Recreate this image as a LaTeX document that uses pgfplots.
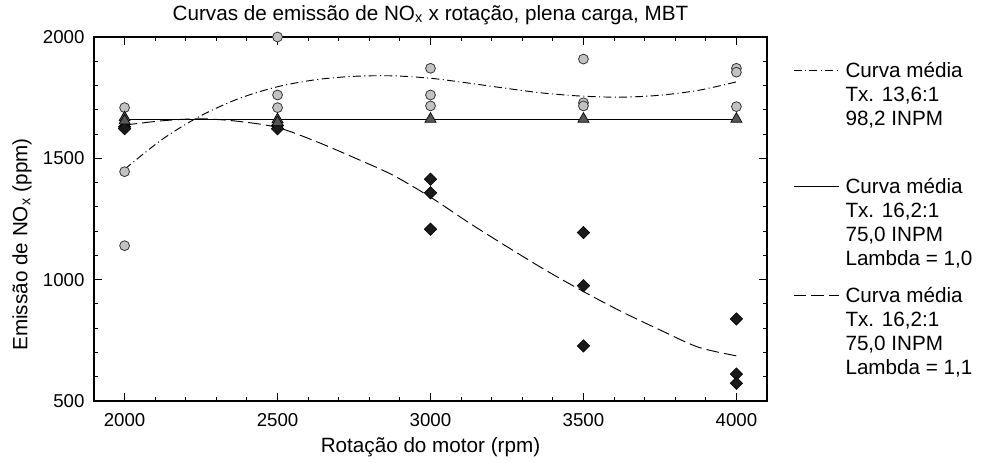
\documentclass[border=0pt]{standalone}
\usepackage{fontspec}
\setmainfont{Liberation Sans}
\usepackage{pgfplots}
\pgfplotsset{compat=1.18}

\definecolor{ptCirc}{HTML}{C2C2C2}
\definecolor{ptTri}{HTML}{575757}
\definecolor{ptDia}{HTML}{1A1A1A}

\begin{document}
\begin{tikzpicture}
\useasboundingbox (-70.5pt,-46.5pt) rectangle (666pt,300.75pt);
\begin{axis}[
  scale only axis,
  width=504.75pt, height=273pt,
  xmin=1900, xmax=4100,
  ymin=500, ymax=2000,
  clip=false,
  axis line style={line width=0.9pt},
  xtick={2000,2500,3000,3500,4000},
  ytick={500,1000,1500,2000},
  minor x tick num=4,
  minor y tick num=4,
  tick align=inside,
  major tick length=6pt,
  minor tick length=3pt,
  tick style={line width=0.8pt, black},
  /pgf/number format/assume math mode=true,
  /pgf/number format/set thousands separator={},
  ticklabel style={font=\fontsize{14}{16}\selectfont},
  xticklabel style={yshift=-6pt},
  yticklabel style={xshift=-3.6pt},
  title={Curvas de emissão de NO\textsubscript{x} x rotação, plena carga, MBT},
  title style={font=\fontsize{15.5}{18}\selectfont, at={(rel axis cs:0.5,1.0247)}, anchor=base},
  xlabel={Rotação do motor (rpm)},
  xlabel style={font=\fontsize{15.5}{18}\selectfont, at={(rel axis cs:0.5,-0.141)}, anchor=base},
  ylabel={Emissão de NO\textsubscript{x} (ppm)},
  ylabel style={font=\fontsize{15.5}{18}\selectfont, at={(rel axis cs:-0.099,0.43)}, anchor=base},
  legend style={
    at={(rel axis cs:1.0386,0.934)}, anchor=north west,
    draw=none, fill=none, inner sep=0pt,
    row sep=14pt, column sep=4.5pt,
    font=\fontsize{15.5}{18}\selectfont,
    nodes={inner sep=0pt},
    cells={anchor=north west, align=left}
  },
  legend image code/.code={
    \path (0pt,0pt);
    \draw[#1] (0pt,-6.3pt) -- (34pt,-6.3pt);
  }
]
  % curvas medias
  \addplot[black, line width=0.7pt,
    dash pattern=on 6pt off 2.5pt on 0.8pt off 2.5pt, smooth] coordinates {
    (2000,1455) (2125,1580) (2250,1676) (2375,1747) (2500,1795)
    (2625,1824) (2750,1838) (2875,1840) (3000,1830) (3125,1810)
    (3250,1788) (3375,1768) (3500,1756) (3625,1752) (3750,1760)
    (3875,1780) (4000,1815)
  };
  \addlegendentry{Curva média\\Tx. 13,6:1\\98,2 INPM\\[6pt]\mbox{}}
  \addplot[black, line width=0.7pt] coordinates {
    (2000,1661) (4000,1661)
  };
  \addlegendentry{Curva média\\Tx. 16,2:1\\75,0 INPM\\Lambda = 1,0}
  \addplot[black, line width=0.7pt,
    dash pattern=on 9.5pt off 3.8pt, smooth] coordinates {
    (2000,1637) (2125,1655) (2250,1663) (2375,1652) (2500,1627)
    (2625,1570) (2750,1503) (2875,1432) (3000,1340) (3125,1235)
    (3250,1136) (3375,1040) (3500,951) (3625,868) (3750,793)
    (3875,722) (4000,686)
  };
  \addlegendentry{Curva média\\Tx. 16,2:1\\75,0 INPM\\Lambda = 1,1}

  % pontos medidos, lambda 1,1
  \addplot[only marks, forget plot, mark=square*, mark size=3.3pt,
    mark options={rotate=45, fill=ptDia, draw=black, line width=0.4pt}] coordinates {
    (2000,1630) (2000,1622) (2500,1635) (2500,1622)
    (3000,1414) (3000,1358) (3000,1208)
    (3500,1194) (3500,975) (3500,727)
    (4000,838) (4000,611) (4000,573)
  };
  % pontos medidos, 13,6:1
  \addplot[only marks, forget plot, mark=*, mark size=3.7pt,
    mark options={fill=ptCirc, draw=black!80, line width=0.6pt}] coordinates {
    (2000,1709) (2000,1445) (2000,1140)
    (2500,2000) (2500,1761) (2500,1709)
    (3000,1871) (3000,1761) (3000,1716)
    (3500,1909) (3500,1729) (3500,1716)
    (4000,1871) (4000,1855) (4000,1713)
  };
  % pontos medidos, lambda 1,0
  \addplot[only marks, forget plot, mark=triangle*, mark size=4.8pt,
    mark options={fill=ptTri, draw=black, line width=0.5pt}] coordinates {
    (2000,1668) (2000,1655) (2500,1660) (2500,1648)
    (3000,1662) (3500,1662) (4000,1662)
  };
\end{axis}
\end{tikzpicture}
\end{document}
